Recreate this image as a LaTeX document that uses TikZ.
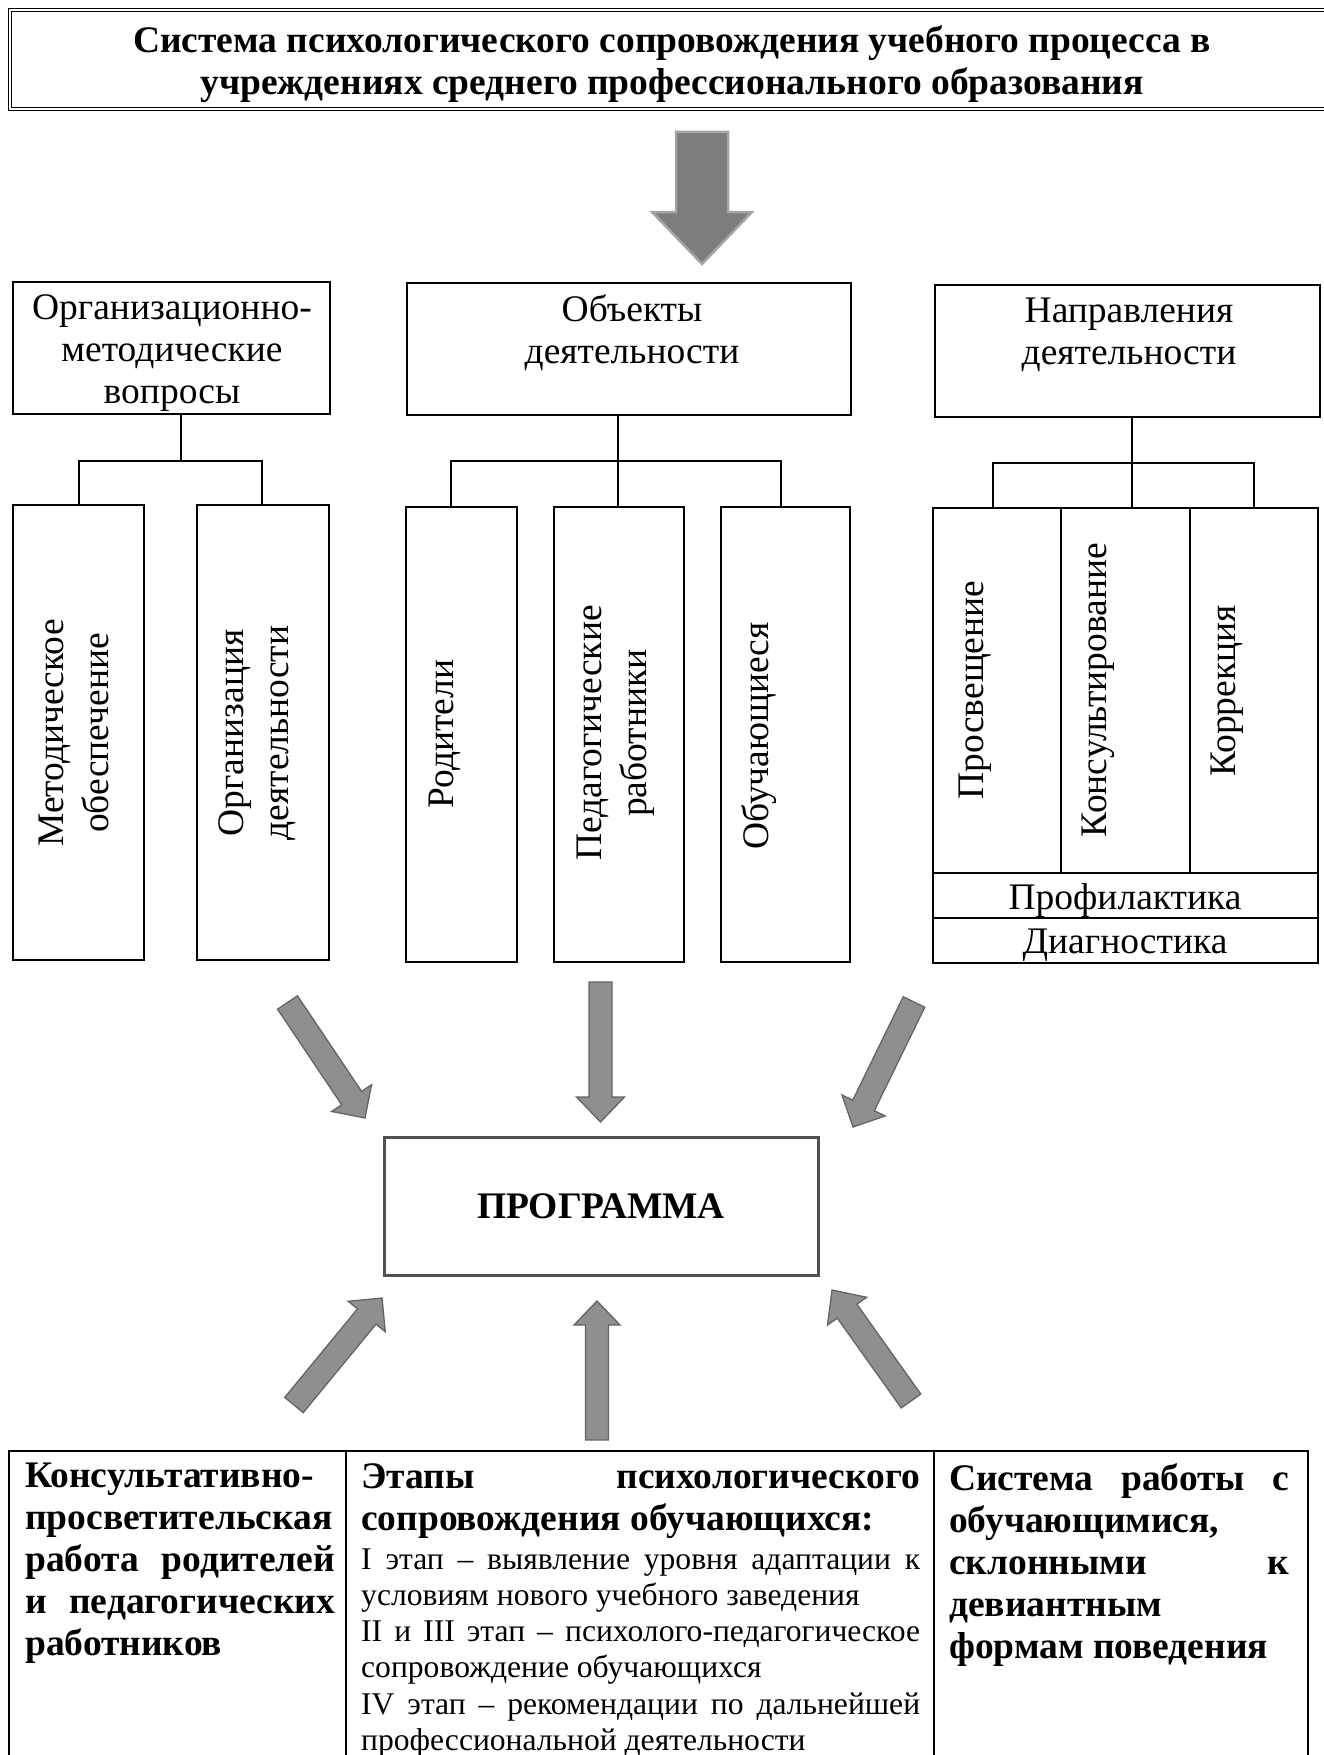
\documentclass[tikz,border=0pt]{standalone}
\usepackage{fontspec}
\setmainfont{Liberation Serif}
\usetikzlibrary{calc,fit}

\newcommand\bigfont{\fontsize{37.5}{42}\selectfont}
\newcommand\rotfont{\fontsize{37.5}{45}\selectfont}
\newcommand\smallfont{\fontsize{31.6}{36.2}\selectfont}
\newcommand\cellsetup{\tolerance=10000\hyphenpenalty=10000\emergencystretch=20pt\parskip=0pt\relax}

\newcommand\fatarrow[6]{%
 \coordinate (fa-h) at ($(#2)!#5pt!(#1)$);
 \draw[#6] ($(#1)!#3pt!90:(#2)$) -- ($(fa-h)!#3pt!-90:(#1)$) -- ($(fa-h)!#4pt!-90:(#1)$) -- (#2) -- ($(fa-h)!#4pt!90:(#1)$) -- ($(fa-h)!#3pt!90:(#1)$) -- ($(#1)!#3pt!-90:(#2)$) -- cycle;}

\begin{document}
\begin{tikzpicture}[x=1pt,y=-1pt,
 box/.style={draw, line width=2.2pt, inner sep=0pt},
 lbl/.style={inner sep=0pt, align=center, font=\bigfont},
 rlbl/.style={inner sep=0pt, align=center, font=\rotfont, rotate=90},
 conn/.style={line width=2.2pt},
 cell/.style={inner sep=0pt, align=justify, font=\bigfont\cellsetup, anchor=north west},
 fatarrowstyle/.style={fill={rgb,255:red,143;green,143;blue,143}, draw={rgb,255:red,100;green,100;blue,100}, line width=1.3pt, line join=miter},
 bigarrowstyle/.style={fill={rgb,255:red,125;green,125;blue,125}, draw={rgb,255:red,165;green,165;blue,165}, line width=2.5pt, line join=miter},
]
\useasboundingbox (0,0) rectangle (1324,1755);
\clip (0,0) rectangle (1324,1755);

% title
\node[draw, inner sep=0pt, double, double distance=1.3pt, line width=1.3pt, fit={(10,10) (1345,109)}] (titlebox) {};
\node[lbl, font=\bigfont\bfseries] (title) at (672,64.5) {Система психологического сопровождения учебного процесса в\\учреждениях среднего профессионального образования};

% big arrow
\coordinate (ta0) at (702,132);
\coordinate (ta1) at (702,264);
\fatarrow{ta0}{ta1}{26}{50}{52}{bigarrowstyle}

% level 1 boxes
\node[box, fit={(13,282) (330,414)}] (A) {};
\node[box, fit={(407,283) (851,415)}] (B) {};
\node[box, fit={(935,285) (1320,417)}] (C) {};
\node[lbl] (Atxt) at (172,353.5) {Организационно-\\методические\\вопросы};
\node[lbl] (Btxt) at (632,332.5) {Объекты\\деятельности};
\node[lbl] (Ctxt) at (1129,335) {Направления\\деятельности};

% children
\node[box, fit={(13,505) (144,960)}] (A1) {};
\node[box, fit={(197,505) (329,960)}] (A2) {};
\node[box, fit={(406,507) (517,962)}] (B1) {};
\node[box, fit={(554,507) (684,962)}] (B2) {};
\node[box, fit={(721,507) (850,962)}] (B3) {};
\node[box, fit={(933,508) (1061,873)}] (C1) {};
\node[box, fit={(1061,508) (1190,873)}] (C2) {};
\node[box, fit={(1190,508) (1318,873)}] (C3) {};
\node[box, fit={(933,873) (1318,918)}] (CP) {};
\node[box, fit={(933,918) (1318,963)}] (CD) {};

\node[rlbl] (A1t) at (74,733) {Методическое\\обеспечение};
\node[rlbl] (A2t) at (257.5,733) {Организация\\деятельности};
\node[rlbl] (B1t) at (445,734) {Родители};
\node[rlbl] (B2t) at (615.5,733) {Педагогические\\работники};
\node[rlbl] (B3t) at (759,736) {Обучающиеся};
\node[rlbl] (C1t) at (975,690) {Просвещение};
\node[rlbl] (C2t) at (1098,690) {Консультирование};
\node[rlbl] (C3t) at (1227,691) {Коррекция};
\node[lbl] (CPt) at (1125,900) {Профилактика};
\node[lbl] (CDt) at (1125,945) {Диагностика};

% connectors
\coordinate (jA) at (181,461);
\coordinate (jA1) at (79,461);
\coordinate (jA2) at (262,461);
\draw[conn] (jA |- A.south) -- (jA);
\draw[conn] (jA1 |- A1.north) -- (jA1) -- (jA2) -- (jA2 |- A2.north);
\coordinate (jB) at (618,461);
\coordinate (jB1) at (451,461);
\coordinate (jB3) at (781,461);
\draw[conn] (jB |- B.south) -- (jB |- B2.north);
\draw[conn] (jB1 |- B1.north) -- (jB1) -- (jB3) -- (jB3 |- B3.north);
\coordinate (jC) at (1132,463);
\coordinate (jC1) at (993,463);
\coordinate (jC3) at (1254,463);
\draw[conn] (jC |- C.south) -- (jC |- C2.north);
\draw[conn] (jC1 |- C1.north) -- (jC1) -- (jC3) -- (jC3 |- C3.north);

% programme
\node[draw={rgb,255:red,80;green,80;blue,80}, line width=3pt, inner sep=0pt, fit={(384,1137) (818,1275)}] (prog) {};
\node[lbl, font=\bigfont\bfseries] (progt) at (prog.center) {ПРОГРАММА};

% arrows into programme
\coordinate (ul0) at (287.5,1002.5); \coordinate (ul1) at (365,1118);
\fatarrow{ul0}{ul1}{12}{24}{24}{fatarrowstyle}
\coordinate (um0) at (600.5,982); \coordinate (um1) at (600.5,1122);
\fatarrow{um0}{um1}{11.5}{24}{25}{fatarrowstyle}
\coordinate (ur0) at (914,1002); \coordinate (ur1) at (853,1127);
\fatarrow{ur0}{ur1}{12}{24}{24}{fatarrowstyle}
\coordinate (ll0) at (294,1405); \coordinate (ll1) at (382,1298);
\fatarrow{ll0}{ll1}{12}{24}{24}{fatarrowstyle}
\coordinate (lm0) at (597,1440); \coordinate (lm1) at (597,1301);
\fatarrow{lm0}{lm1}{11.5}{23}{24}{fatarrowstyle}
\coordinate (lr0) at (911,1401); \coordinate (lr1) at (832,1290);
\fatarrow{lr0}{lr1}{12}{24}{26}{fatarrowstyle}

% table
\node[box, line width=2.2pt, fit={(9,1451) (346,1800)}] (T1) {};
\node[box, line width=2.2pt, fit={(346,1451) (934,1800)}] (T2) {};
\node[box, line width=2.2pt, fit={(934,1451) (1308,1800)}] (T3) {};

\node[cell, text width=310pt] (t1) at (25,1463) {\bfseries Консультативно-\linebreak просветительская\linebreak работа родителей\linebreak и педагогических\linebreak работников\par};
\node[cell, text width=559pt] (t2) at (361,1463) {{\bfseries Этапы психологического\linebreak сопровождения обучающихся:\par}\vspace{3pt}\smallfont I этап – выявление уровня адаптации к\linebreak условиям нового учебного заведения\par II и III этап – психолого-педагогическое\linebreak сопровождение обучающихся\par IV этап – рекомендации по дальнейшей\linebreak профессиональной деятельности\par};
\node[cell, text width=340pt] (t3) at (949,1463) {\bfseries Система работы с\linebreak обучающимися,\linebreak склонными к\linebreak девиантным\linebreak формам поведения\par};
\end{tikzpicture}
\end{document}
